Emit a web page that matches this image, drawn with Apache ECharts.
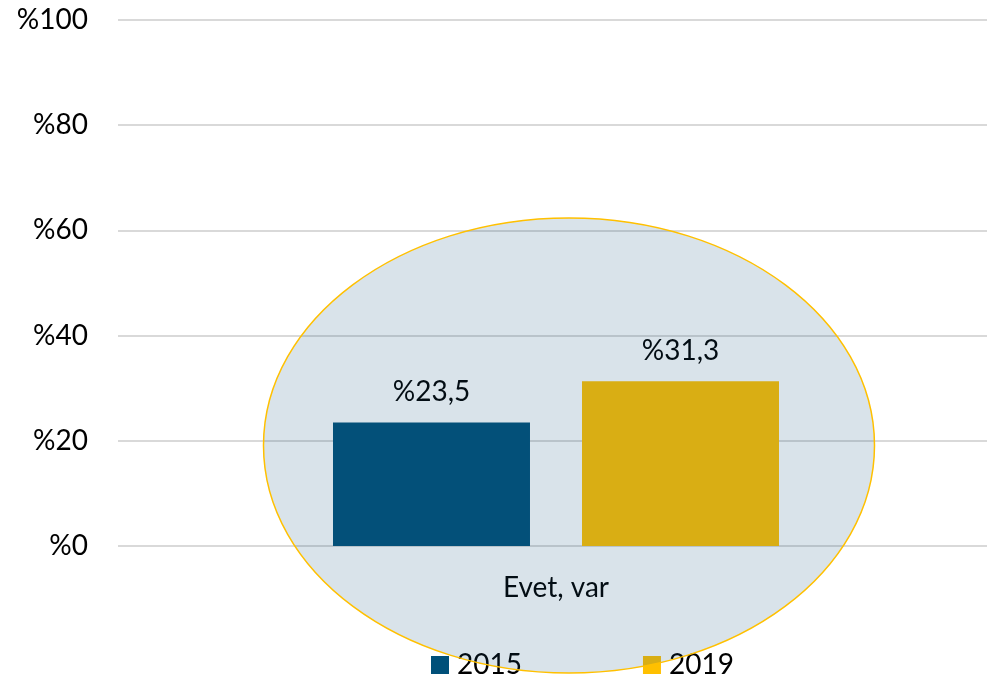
<!DOCTYPE html>
<html><head><meta charset="utf-8">
<script src="https://cdn.jsdelivr.net/npm/echarts@6/dist/echarts.min.js"></script>
<style>html,body{margin:0;padding:0;background:#fff;overflow:hidden}#c{width:994px;height:679px}</style>
</head><body><div id="c"></div>
<script>
const categories = ['Evet, var'];
const seriesNames = ['2015', '2019'];
const values2015 = [23.5];
const values2019 = [31.3];
const yTicks = [0, 20, 40, 60, 80, 100];
const colors = ['#005079', '#FFC000'];
const FONT = 'Lato, "Open Sans", sans-serif';
const FS = 28;
const fmt = v => '%' + String(v).replace('.', ',');
const chart = echarts.init(document.getElementById('c'));
chart.setOption({
  animation: false,
  grid: { left: 118, right: 0, top: 20, height: 526, containLabel: false },
  legend: {
    data: seriesNames, top: 651, left: 431, padding: 0, itemWidth: 18, itemHeight: 18, itemGap: 121,
    icon: 'rect', textStyle: { fontSize: FS, color: '#000', fontFamily: FONT, padding: [0, 0, 0, 3] }
  },
  xAxis: {
    type: 'category', data: categories,
    axisLine: { show: false }, axisTick: { show: false },
    axisLabel: { fontSize: FS, color: '#000', fontFamily: FONT, margin: 28 }
  },
  yAxis: {
    type: 'value', min: yTicks[0], max: yTicks[yTicks.length - 1], interval: 20,
    axisLine: { show: false }, axisTick: { show: false },
    splitLine: { lineStyle: { color: '#d9d9d9', width: 2 } },
    axisLabel: { fontSize: FS, color: '#000', fontFamily: FONT, margin: 30, formatter: v => '%' + v }
  },
  series: [
    { name: seriesNames[0], type: 'bar', data: values2015, barWidth: 197, barGap: '26.4%',
      itemStyle: { color: colors[0] },
      label: { show: true, position: 'top', distance: 16, fontSize: FS, color: '#000', fontFamily: FONT, formatter: p => fmt(p.value) } },
    { name: seriesNames[1], type: 'bar', data: values2019, barWidth: 197,
      itemStyle: { color: colors[1] },
      label: { show: true, position: 'top', distance: 16, fontSize: FS, color: '#000', fontFamily: FONT, formatter: p => fmt(p.value) } }
  ],
  graphic: [{
    type: 'ellipse', z: 100, silent: true,
    shape: { cx: 569, cy: 445.5, rx: 305.5, ry: 227.5 },
    style: { fill: 'rgba(18,80,125,0.16)', stroke: '#FFC000', lineWidth: 1.5 }
  }]
});
</script></body></html>
